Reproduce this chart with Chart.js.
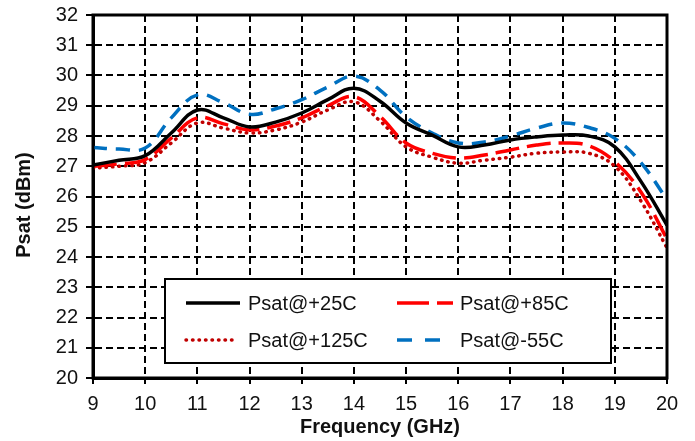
<!DOCTYPE html>
<html><head><meta charset="utf-8">
<script src="https://cdn.jsdelivr.net/npm/chart.js@4"></script>
<style>html,body{margin:0;padding:0;background:#fff}#wrap{width:695px;height:441px}</style>
</head><body><div id="wrap"><canvas id="c" width="695" height="441"></canvas></div>
<script>
const freq = [9,9.5,10,10.5,11,11.5,12,12.5,13,13.5,14,14.5,15,15.5,16,16.5,17,17.5,18,18.5,19,19.5,20];
const psat25  = [27.04,27.2,27.35,28.1,28.86,28.6,28.3,28.46,28.76,29.2,29.58,29.15,28.43,28.03,27.64,27.7,27.87,27.97,28.03,28.0,27.64,26.5,25.05];
const psat85  = [27.0,27.08,27.22,27.93,28.6,28.4,28.2,28.33,28.6,29.0,29.3,28.65,27.77,27.43,27.27,27.37,27.54,27.7,27.77,27.68,27.15,26.15,24.6];
const psat125 = [26.94,27.0,27.12,27.77,28.43,28.26,28.1,28.2,28.46,28.86,29.13,28.5,27.64,27.3,27.1,27.2,27.3,27.43,27.47,27.43,27.0,25.85,24.3];
const psatM55 = [27.62,27.57,27.6,28.6,29.36,29.1,28.72,28.9,29.2,29.62,29.98,29.52,28.63,28.1,27.77,27.8,28.0,28.26,28.43,28.28,27.92,27.12,25.9];
const seriesNames = ['Psat@+25C','Psat@+85C','Psat@+125C','Psat@-55C'];
const yTitle = 'Psat (dBm)';
const xTitle = 'Frequency (GHz)';

const pts = arr => freq.map((f,i)=>({x:f,y:arr[i]}));
const FONT = '"Liberation Sans", Arial, sans-serif';

const styles = [
  {color:'#000000', dash:[], width:3.5, cap:'butt'},
  {color:'#ff0000', dash:[24,8], width:3.5, cap:'butt'},
  {color:'#c00000', dash:[0.5,6], width:3.5, cap:'round'},
  {color:'#0070c0', dash:[14,9], width:3.5, cap:'butt'}
];
const seriesData = [psat25, psat85, psat125, psatM55];

const datasets = seriesData.map((d,i)=>({
  label: seriesNames[i],
  data: pts(d),
  borderColor: styles[i].color,
  borderWidth: styles[i].width,
  borderDash: styles[i].dash,
  borderCapStyle: styles[i].cap,
  pointRadius: 0,
  fill: false,
  tension: 0.4
}));

const framePlugin = {
  id:'frame',
  afterDatasetsDraw(chart){
    const {ctx, chartArea:a} = chart;
    ctx.save();
    ctx.strokeStyle = '#000'; ctx.lineWidth = 3; ctx.setLineDash([]);
    ctx.strokeRect(a.left, a.top, a.right-a.left, a.bottom-a.top);
    // y title
    ctx.save();
    ctx.translate(24, 205);
    ctx.rotate(-Math.PI/2);
    ctx.fillStyle = '#111';
    ctx.font = 'bold 20px ' + FONT;
    ctx.textAlign = 'center'; ctx.textBaseline = 'middle';
    ctx.fillText(yTitle, 0, 0);
    ctx.restore();
    // legend
    const L = 165, T = 279, R = 611, B = 363;
    ctx.fillStyle = '#fff';
    ctx.fillRect(L, T, R-L, B-T);
    ctx.lineWidth = 2;
    ctx.strokeRect(L, T, R-L, B-T);
    const items = [
      {i:0, x1:186, x2:240, tx:248, y:303},
      {i:1, x1:397, x2:453, tx:460, y:303},
      {i:2, x1:186, x2:238, tx:248, y:340},
      {i:3, x1:397, x2:442, tx:460, y:340}
    ];
    items.forEach(it=>{
      const s = styles[it.i];
      ctx.beginPath();
      ctx.strokeStyle = s.color;
      ctx.lineWidth = s.width;
      ctx.lineCap = s.cap;
      ctx.setLineDash(it.i===1 ? [32,8] : it.i===3 ? [15,13] : s.dash);
      ctx.moveTo(it.x1, it.y); ctx.lineTo(it.x2, it.y); ctx.stroke();
      ctx.setLineDash([]);
      ctx.fillStyle = '#111';
      ctx.font = '20px ' + FONT;
      ctx.textAlign = 'left'; ctx.textBaseline = 'middle';
      ctx.fillText(seriesNames[it.i], it.tx, it.y+1);
    });
    ctx.restore();
  }
};

new Chart(document.getElementById('c'), {
  type:'line',
  data:{datasets},
  options:{
    responsive:false, animation:false,
    layout:{padding:{left:0, right:28, top:15, bottom:0}},
    plugins:{legend:{display:false}, tooltip:{enabled:false}},
    scales:{
      x:{
        type:'linear', min:9, max:20,
        ticks:{stepSize:1, color:'#111', font:{family:FONT, size:20}, padding:8, maxRotation:0},
        grid:{color:'#000', lineWidth:2, tickLength:6, tickColor:'#000', tickWidth:2},
        border:{display:true, color:'#000', width:3, dash:[7,4]},
        title:{display:true, text:xTitle, color:'#111', font:{family:FONT, size:20, weight:'bold'}, padding:{top:0,bottom:2}},
        afterFit(s){ s.height = 63; s.paddingLeft = 0; s.paddingRight = 0; }
      },
      y:{
        min:20, max:32,
        ticks:{stepSize:1, color:'#111', font:{family:FONT, size:20}, padding:8},
        grid:{color:'#000', lineWidth:2, tickLength:7, tickColor:'#000', tickWidth:2},
        border:{display:true, color:'#000', width:3, dash:[7,4]},
        title:{display:false},
        afterFit(s){ s.width = 93; s.paddingTop = 0; s.paddingBottom = 0; }
      }
    }
  },
  plugins:[framePlugin]
});
</script></body></html>
